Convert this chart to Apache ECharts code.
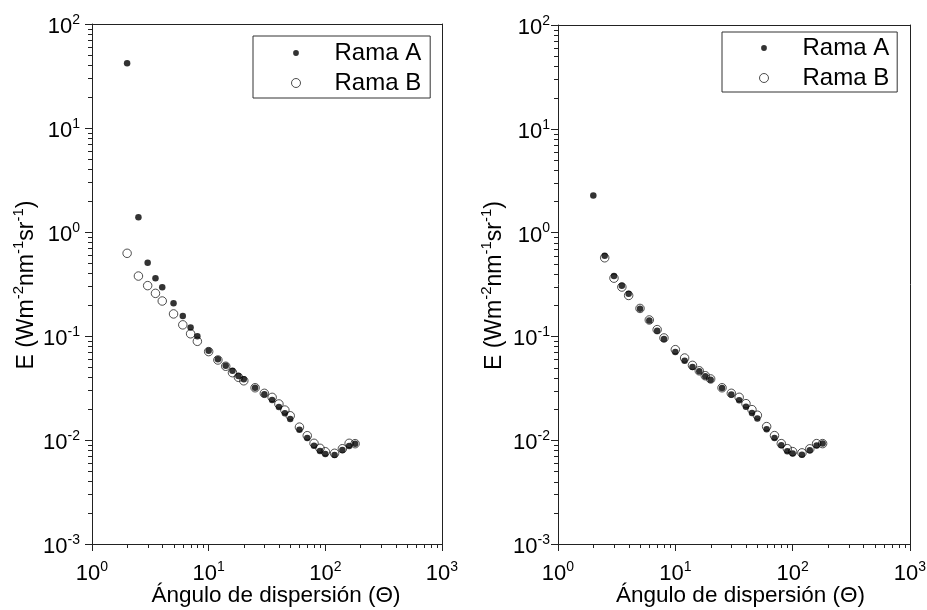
<!DOCTYPE html>
<html>
<head>
<meta charset="utf-8">
<script src="https://cdn.jsdelivr.net/npm/echarts@6/dist/echarts.min.js"></script>
<style>
  html, body { margin: 0; padding: 0; background: #fff; }
  #chart { width: 927px; height: 610px; }
</style>
</head>
<body>
<div id="chart"></div>
<script>
// Scattering angle (degrees) shared by both branches
const angles = [2, 2.5, 3, 3.5, 4, 5, 6, 7, 8, 10, 12, 14, 16, 18, 20, 25, 30, 35, 40, 45, 50, 60, 70, 80, 90, 100, 120, 140, 160, 180];

// Left panel: radiance E per branch
const leftRamaA = [42, 1.39, 0.507, 0.359, 0.294, 0.206, 0.156, 0.121, 0.0993, 0.0723, 0.0597, 0.0518, 0.0464, 0.0412, 0.0384, 0.0318, 0.0275, 0.0243, 0.0208, 0.0181, 0.0159, 0.01256, 0.01045, 0.00881, 0.00783, 0.00733, 0.00718, 0.00801, 0.00875, 0.00922];
const leftRamaB = [0.624, 0.377, 0.305, 0.257, 0.217, 0.163, 0.128, 0.105, 0.0889, 0.0708, 0.0588, 0.0512, 0.0444, 0.0401, 0.0371, 0.0318, 0.0281, 0.0257, 0.0222, 0.0194, 0.0171, 0.0133, 0.0110, 0.00929, 0.00832, 0.00771, 0.00745, 0.00824, 0.00929, 0.00922];

// Right panel: radiance E per branch (branch B has no value at 2°)
const rightRamaA = [2.28, 0.598, 0.381, 0.308, 0.258, 0.185, 0.1426, 0.1135, 0.0944, 0.0708, 0.0583, 0.0507, 0.0461, 0.0412, 0.0383, 0.0318, 0.0275, 0.0242, 0.0210, 0.0183, 0.01614, 0.01274, 0.01052, 0.00893, 0.00781, 0.00743, 0.00726, 0.0080, 0.00887, 0.00927];
const rightRamaB = [null, 0.572, 0.364, 0.299, 0.248, 0.186, 0.144, 0.1162, 0.0966, 0.0745, 0.0619, 0.0526, 0.0466, 0.0418, 0.0389, 0.0320, 0.0283, 0.0259, 0.0225, 0.0197, 0.0174, 0.01352, 0.01107, 0.00927, 0.00829, 0.00776, 0.00755, 0.00826, 0.00927, 0.00927];

// Axis decades (major ticks, labelled as powers of ten)
const xDecades = [1, 10, 100, 1000];
const yDecades = [0.001, 0.01, 0.1, 1, 10, 100];

// Minor tick positions between the decades
const xMinorTicks = [2, 3, 4, 5, 6, 7, 8, 9, 20, 30, 40, 50, 60, 70, 80, 90, 200, 300, 400, 500, 600, 700, 800, 900];
const yMinorTicks = [0.002, 0.003, 0.004, 0.005, 0.006, 0.007, 0.008, 0.009,
                     0.02, 0.03, 0.04, 0.05, 0.06, 0.07, 0.08, 0.09,
                     0.2, 0.3, 0.4, 0.5, 0.6, 0.7, 0.8, 0.9,
                     2, 3, 4, 5, 6, 7, 8, 9,
                     20, 30, 40, 50, 60, 70, 80, 90];

const seriesNames = ['Rama A', 'Rama B'];
const xTitle = 'Ángulo de dispersión (Θ)';
const yTitle = 'E (Wm{s|-2}nm{s|-1}sr{s|-1})';

const FONT = '"Liberation Sans", Arial, sans-serif';
const INK = '#000';
const FRAME = '#222';

function pairs(xs, ys) {
  const out = [];
  xs.forEach((x, i) => { if (ys[i] != null) out.push([x, ys[i]]); });
  return out;
}

function powerLabel(v) {
  const e = Math.round(Math.log10(v));
  return '10{s|' + e + '}';
}

const supStyle = { fontSize: 14, lineHeight: 14, verticalAlign: 'top', fontFamily: FONT, color: INK };
const nameSupStyle = { fontSize: 15, lineHeight: 15, verticalAlign: 'top', fontFamily: FONT, color: INK };

const panels = [
  { grid: { left: 92, right: 485, top: 24, bottom: 66 }, yLabelMargin: 12, yNameGap: 50, xNamePad: 18,
    legend: { left: 253, top: 36, padding: [5, 9, 3, 38] }, a: leftRamaA, b: leftRamaB },
  { grid: { left: 558, right: 17, top: 25, bottom: 66 }, yLabelMargin: 8, yNameGap: 48, xNamePad: 13,
    legend: { left: 722, top: 32, padding: [4, 8, 2, 37] }, a: rightRamaA, b: rightRamaB }
];

const grids = [], xAxes = [], yAxes = [], series = [], legends = [];

const iconA = 'path://M0,0M10,10M5,1.8A3.2,3.2,0,1,1,5,8.2A3.2,3.2,0,1,1,5,1.8Z';

// short outward tick marks drawn through the axis scales
function minorTickItem(dir) {
  return function (params, api) {
    const pt = api.coord([api.value(0), api.value(1)]);
    const x = Math.round(pt[0]) + 0.5;
    const y = Math.round(pt[1]) + 0.5;
    const shape = dir === 'x'
      ? { x1: x, y1: Math.round(pt[1]), x2: x, y2: Math.round(pt[1]) + 4 }
      : { x1: Math.round(pt[0]) - 4, y1: y, x2: Math.round(pt[0]), y2: y };
    return { type: 'line', shape: shape, style: { stroke: FRAME, lineWidth: 1 }, silent: true };
  };
}

panels.forEach((p, i) => {
  grids.push(Object.assign({ outerBoundsMode: 'none', containLabel: false, show: false }, p.grid));

  const xMain = xAxes.length;
  xAxes.push({
    type: 'log', logBase: 10, gridIndex: i, min: xDecades[0], max: xDecades[xDecades.length - 1],
    position: 'bottom',
    axisLine: { show: true, onZero: false, lineStyle: { color: FRAME, width: 1 } },
    axisTick: { show: true, inside: false, length: 7, lineStyle: { color: FRAME, width: 1 } },
    splitLine: { show: false },
    axisLabel: { formatter: powerLabel, margin: 16, color: INK, fontSize: 22, lineHeight: 28, fontFamily: FONT, rich: { s: supStyle } },
    name: xTitle, nameLocation: 'middle', nameGap: 40, nameMoveOverlap: false,
    nameTextStyle: { fontSize: 22.5, color: INK, fontFamily: FONT, padding: [0, 0, 0, p.xNamePad] }
  });
  // top frame line
  xAxes.push({
    type: 'value', gridIndex: i, min: 0, max: 1, position: 'top',
    axisLine: { show: true, onZero: false, lineStyle: { color: FRAME, width: 1 } },
    axisTick: { show: false }, axisLabel: { show: false }, splitLine: { show: false }
  });

  const yMain = yAxes.length;
  yAxes.push({
    type: 'log', logBase: 10, gridIndex: i, min: yDecades[0], max: yDecades[yDecades.length - 1],
    position: 'left',
    axisLine: { show: true, onZero: false, lineStyle: { color: FRAME, width: 1 } },
    axisTick: { show: true, inside: false, length: 7, lineStyle: { color: FRAME, width: 1 } },
    splitLine: { show: false },
    axisLabel: { formatter: powerLabel, margin: p.yLabelMargin, color: INK, fontSize: 22, lineHeight: 28, fontFamily: FONT,
                 padding: [6, 0, 0, 0], rich: { s: supStyle } },
    name: yTitle, nameLocation: 'middle', nameRotate: 90, nameGap: p.yNameGap, nameMoveOverlap: false,
    nameTextStyle: { fontSize: 23, lineHeight: 31, color: INK, fontFamily: FONT, padding: [0, 2, 0, 0], rich: { s: nameSupStyle } }
  });
  // right frame line
  yAxes.push({
    type: 'value', gridIndex: i, min: 0, max: 1, position: 'right',
    axisLine: { show: true, onZero: false, lineStyle: { color: FRAME, width: 1 } },
    axisTick: { show: false }, axisLabel: { show: false }, splitLine: { show: false }
  });

  // minor ticks on the bottom and left axes
  series.push({
    type: 'custom', name: 'xMinor', xAxisIndex: xMain, yAxisIndex: yMain, silent: true, clip: false,
    renderItem: minorTickItem('x'),
    data: xMinorTicks.map(v => [v, yDecades[0]])
  });
  series.push({
    type: 'custom', name: 'yMinor', xAxisIndex: xMain, yAxisIndex: yMain, silent: true, clip: false,
    renderItem: minorTickItem('y'),
    data: yMinorTicks.map(v => [xDecades[0], v])
  });

  // open circles first so the filled dots stay visible on top
  series.push({
    type: 'scatter', name: seriesNames[1], xAxisIndex: xMain, yAxisIndex: yMain,
    symbol: 'circle', symbolSize: 8.5,
    itemStyle: { color: 'rgba(255,255,255,0)', borderColor: '#222', borderWidth: 1 },
    emphasis: { disabled: true },
    data: pairs(angles, p.b)
  });
  series.push({
    type: 'scatter', name: seriesNames[0], xAxisIndex: xMain, yAxisIndex: yMain,
    symbol: 'circle', symbolSize: 6.5,
    itemStyle: { color: '#000' },
    emphasis: { disabled: true },
    data: pairs(angles, p.a)
  });

  legends.push({
    orient: 'vertical', left: p.legend.left, top: p.legend.top, padding: p.legend.padding,
    itemWidth: 9, itemHeight: 9, itemGap: 6, symbolKeepAspect: true, selectedMode: false,
    borderColor: '#333', borderWidth: 1, backgroundColor: '#fff',
    formatter: name => '{t|' + name + '}',
    textStyle: { fontSize: 24, lineHeight: 24, color: INK, fontFamily: FONT,
                 rich: { t: { fontSize: 24, lineHeight: 24, color: INK, fontFamily: FONT, padding: [0, 0, 0, 29] } } },
    data: [
      { name: seriesNames[0], icon: iconA, itemStyle: { color: '#000', borderWidth: 0 } },
      { name: seriesNames[1], icon: 'circle', itemStyle: { color: '#fff', borderColor: '#222', borderWidth: 1 } }
    ]
  });
});

const chart = echarts.init(document.getElementById('chart'), null, { renderer: 'canvas' });
chart.setOption({
  animation: false,
  backgroundColor: '#fff',
  textStyle: { fontFamily: FONT },
  grid: grids,
  xAxis: xAxes,
  yAxis: yAxes,
  legend: legends,
  series: series
});
</script>
</body>
</html>
